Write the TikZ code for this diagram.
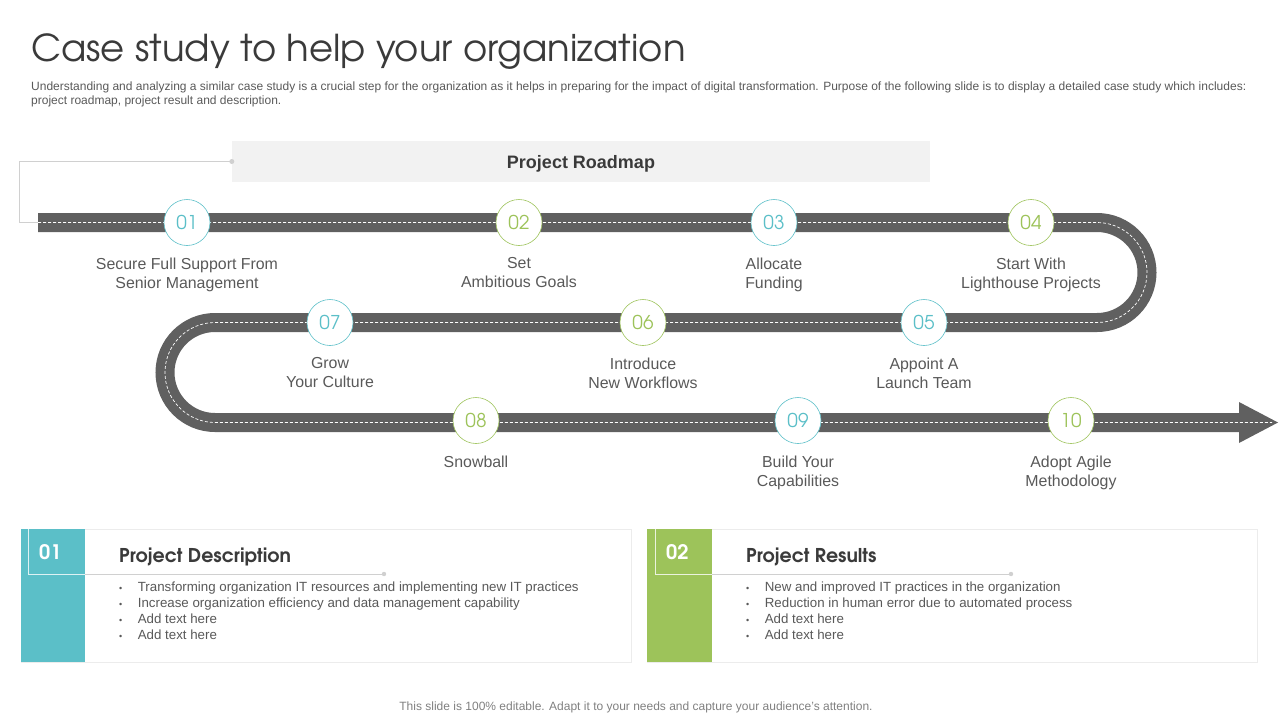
\documentclass[tikz,border=0pt]{standalone}
\usepackage{fontspec}
\setmainfont{Liberation Sans}
\newfontfamily\gothic{TeX Gyre Adventor}
\usetikzlibrary{positioning}
\definecolor{roadgray}{HTML}{606060}
\definecolor{tealc}{HTML}{5BBFC8}
\definecolor{greenc}{HTML}{9DC35A}
\definecolor{textgray}{HTML}{595959}
\definecolor{darktext}{HTML}{3A3A3A}
\definecolor{boxgray}{HTML}{F2F2F2}
\definecolor{linegray}{HTML}{D0D0D0}
\def\fsz#1#2{\fontsize{#1}{#2}\selectfont}
\def\bul{{\fsz{9}{9}\textbullet}}

\begin{document}
\begin{tikzpicture}[x=1pt, y=-1pt,
	stepnum/.style={circle, minimum size=46pt, inner sep=0, fill=white, draw=#1, line width=0.6pt, text=#1, font=\gothic\fsz{19}{19}},
	steplabel/.style={align=center, inner sep=0, text=textgray, font=\fsz{15.9}{19}},
	boxhead/.style={anchor=base west, inner sep=0, text=darktext, font=\gothic\bfseries\fsz{19}{19}},
	boxnum/.style={anchor=base west, inner sep=0, text=white, font=\gothic\bfseries\fsz{20}{20}},
	bullets/.style={anchor=north west, inner sep=0, text=textgray, font=\fsz{13.3}{16}}]
			%%%%% START %%%%%
			\useasboundingbox (0,0) rectangle (1280,720);
			
			\node[anchor=base west, inner sep=0, text=darktext, font=\gothic\fsz{37}{37}] (title) at (31,61) {Case study to help your organization};
			\node[anchor=north west, inner sep=0, align=left, text=textgray, font=\fsz{12}{14}] (intro) at (31,81.5) {Understanding and analyzing a similar case study is a crucial step for the organization as it helps in preparing for the impact of digital transformation. Purpose of the following slide is to display a detailed case study which includes:\\project roadmap, project result and description.};
			
			\node[fill=boxgray, minimum width=698pt, minimum height=41pt, inner sep=0, text height=13pt, text depth=0pt, text=darktext, font=\bfseries\fsz{18}{18}] (roadmap) at (581,161.5) {Project Roadmap};
			
			% road
			\draw[roadgray, line width=19pt] (38,222.5) -- (1097,222.5) arc (-90:90:50) -- (215,322.5) arc (-90:-270:50) -- (1242,422.5);
			\fill[roadgray] (1239,402) -- (1278,422.5) -- (1239,443) -- cycle;
			\draw[white, line width=0.7pt, dash pattern=on 3pt off 2pt] (38,222.5) -- (1097,222.5) arc (-90:90:50) -- (215,322.5) arc (-90:-270:50) -- (1272,422.5);
			
			\coordinate (roadstart) at (38,222.5);
			\draw[linegray, line width=0.8pt] (roadmap.west) -- ++(-212,0) |- (roadstart);
			\fill[linegray] (roadmap.west) circle (2.5);
			
			% steps
			\node[stepnum=tealc] (s01) at (187,222.5) {01};
			\node[stepnum=greenc] (s02) at (519,222.5) {02};
			\node[stepnum=tealc] (s03) at (774,222.5) {03};
			\node[stepnum=greenc] (s04) at (1031,222.5) {04};
			\node[stepnum=tealc] (s05) at (924,322.5) {05};
			\node[stepnum=greenc] (s06) at (643,322.5) {06};
			\node[stepnum=tealc] (s07) at (330,322.5) {07};
			\node[stepnum=greenc] (s08) at (476,420.5) {08};
			\node[stepnum=tealc] (s09) at (798,420.5) {09};
			\node[stepnum=greenc] (s10) at (1071,420.5) {10};
			
			\node[steplabel, below=11.5pt of s01] (l01) {Secure Full Support From\\Senior Management};
			\node[steplabel, below=11.5pt of s02] (l02) {Set\\Ambitious Goals};
			\node[steplabel, below=11.5pt of s03] (l03) {Allocate\\Funding};
			\node[steplabel, below=11.5pt of s04] (l04) {Start With\\Lighthouse Projects};
			\node[steplabel, below=11.5pt of s05] (l05) {Appoint A\\Launch Team};
			\node[steplabel, below=11.5pt of s06] (l06) {Introduce\\New Workflows};
			\node[steplabel, below=11.5pt of s07] (l07) {Grow\\Your Culture};
			\node[steplabel, below=11.5pt of s08] (l08) {Snowball};
			\node[steplabel, below=11.5pt of s09] (l09) {Build Your\\Capabilities};
			\node[steplabel, below=11.5pt of s10] (l10) {Adopt Agile\\Methodology};
			
			% description box
			\draw[gray!15, line width=0.8pt, fill=white] (21,529) rectangle (631,662);
			\fill[tealc] (21,529) rectangle (85,662);
			\draw[white!80!tealc, line width=0.6pt] (28,529) -- (28,574) -- (85,574);
			\draw[linegray, line width=0.6pt] (85,574) -- (384,574);
			\fill[linegray] (384,574) circle (2.2);
			\node[boxnum] (n01) at (39,559) {01};
			\node[boxhead] (h01) at (119,562) {Project Description};
			\node[bullets] (d01) at (119,580) {\begin{tabular}{@{}l@{\hspace{15.5pt}}l@{}}
				\bul & Transforming organization IT resources and implementing new IT practices\\
				\bul & Increase organization efficiency and data management capability\\
				\bul & Add text here\\
				\bul & Add text here
			\end{tabular}};
			
			% results box
			\draw[gray!15, line width=0.8pt, fill=white] (647,529) rectangle (1257,662);
			\fill[greenc] (647,529) rectangle (712,662);
			\draw[white!80!greenc, line width=0.6pt] (655,529) -- (655,574) -- (712,574);
			\draw[linegray, line width=0.6pt] (712,574) -- (1011,574);
			\fill[linegray] (1011,574) circle (2.2);
			\node[boxnum] (n02) at (666,559) {02};
			\node[boxhead] (h02) at (746,562) {Project Results};
			\node[bullets] (d02) at (746,580) {\begin{tabular}{@{}l@{\hspace{15.5pt}}l@{}}
				\bul & New and improved IT practices in the organization\\
				\bul & Reduction in human error due to automated process\\
				\bul & Add text here\\
				\bul & Add text here
			\end{tabular}};
			
			\node[text=gray, font=\fsz{12}{12}, inner sep=0] (footer) at (636,707) {This slide is 100\% editable. Adapt it to your needs and capture your audience's attention.};
			%%%%% END %%%%%
\end{tikzpicture}
\end{document}
